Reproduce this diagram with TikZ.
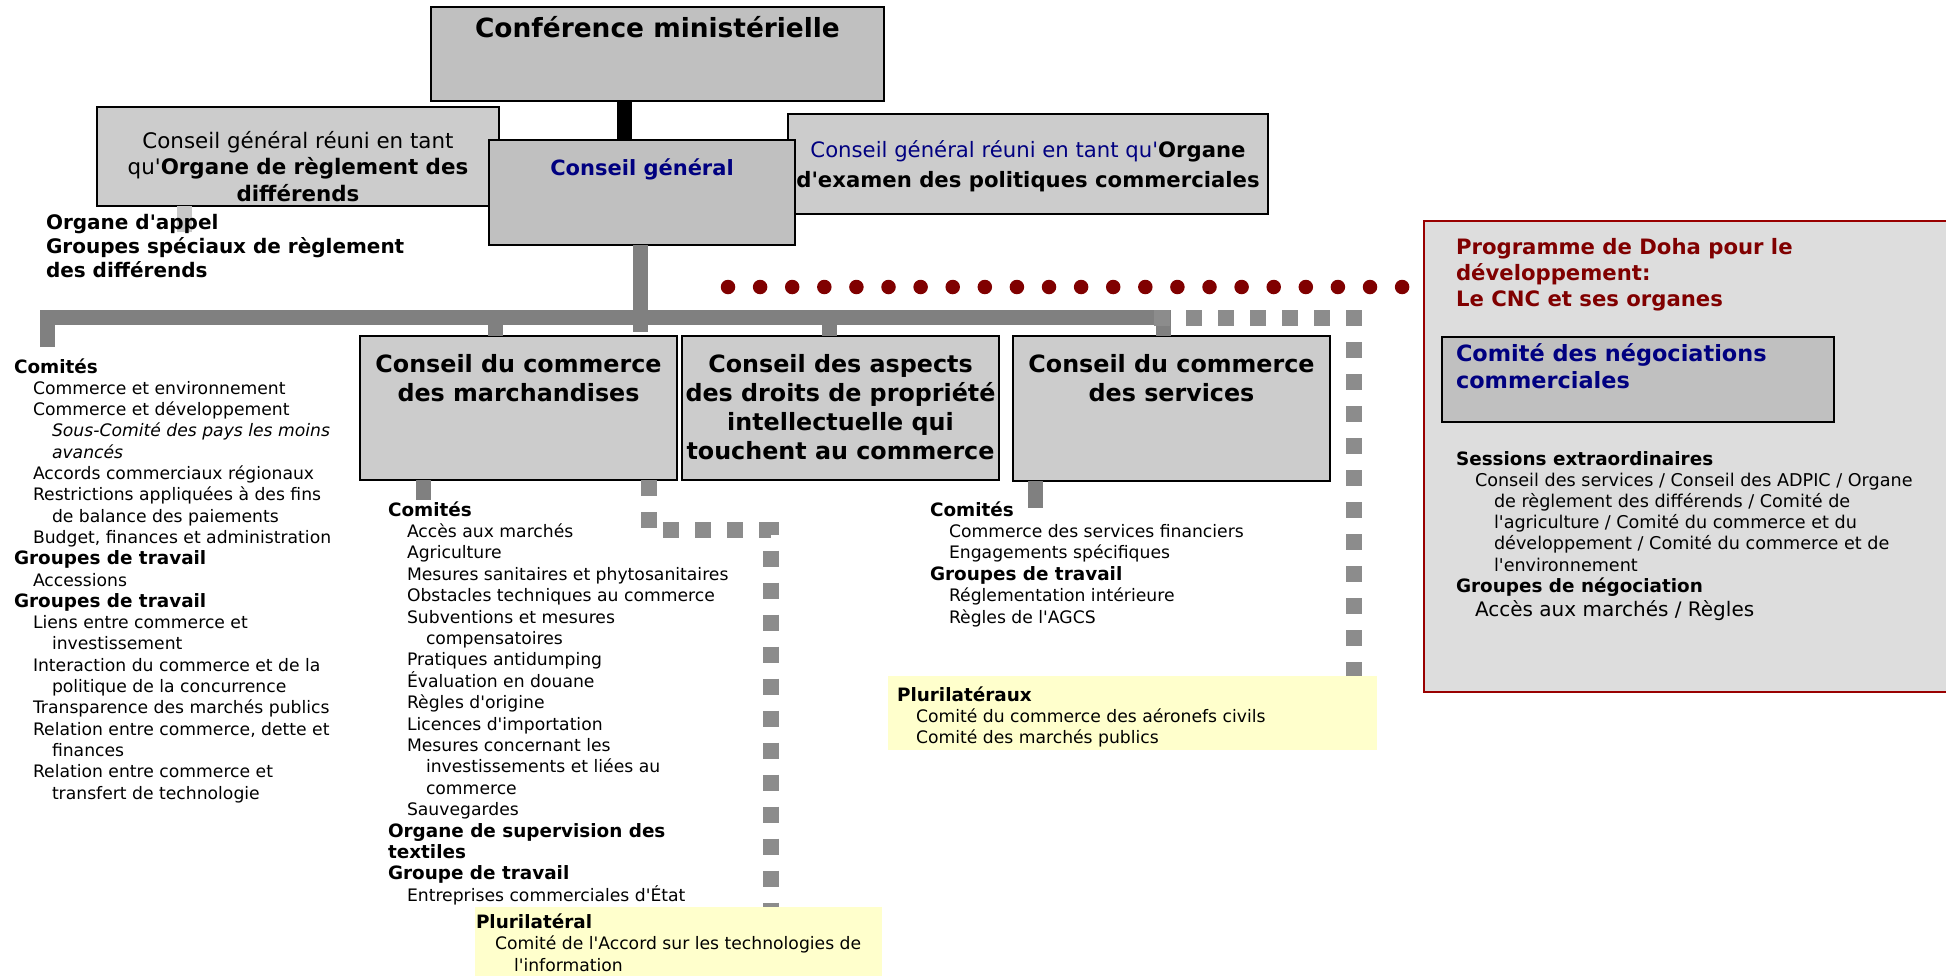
\documentclass[tikz,border=0pt]{standalone}
\usepackage{fontspec}
\setmainfont{DejaVu Sans}[Ligatures=TeXOff]
\definecolor{navy}{HTML}{000080}
\definecolor{dred}{HTML}{800000}
\definecolor{dborder}{HTML}{990000}
\definecolor{bxA}{HTML}{C0C0C0}
\definecolor{bxB}{HTML}{CCCCCC}
\definecolor{dohafill}{HTML}{DDDDDD}
\definecolor{ylw}{HTML}{FFFFCC}
\definecolor{busc}{HTML}{808080}
\definecolor{dshc}{HTML}{8C8C8C}
\definecolor{stubc}{HTML}{C8C8C8}
\newcommand\cbox[1]{\vtop{\lineskiplimit=-\maxdimen\halign{\hfil##\hfil\cr#1\crcr}}}
\newcommand\lbox[1]{\vtop{\lineskiplimit=-\maxdimen\halign{##\hfil\cr#1\crcr}}}
\newcommand\ia{\hskip9.5pt}
\newcommand\ib{\hskip19pt}
\newcommand\hd{\bfseries\fontsize{9.2}{10.7}\selectfont}
\tikzset{
  box/.style={draw=black, line width=1pt, inner sep=0pt, outer sep=0pt},
  ybox/.style={fill=ylw, inner sep=0pt, outer sep=0pt},
  bus/.style={draw=busc, line width=7.5pt},
  blk/.style={draw=black, line width=7.5pt},
  stub/.style={draw=stubc, line width=7.5pt},
  dsh/.style={draw=dshc, line width=8pt, dash pattern=on 8pt off 8pt},
  dots/.style={draw=dred, line width=7.25pt, line cap=round, dash pattern=on 0pt off 16.05pt},
  txt/.style={inner sep=0pt, outer sep=0pt},
}
\begin{document}
\begin{tikzpicture}[x=0.5pt,y=-0.5pt]
\useasboundingbox (0,0) rectangle (1946,975);
\fill[white] (0,0) rectangle (1946,975);

% Doha background box
\node[draw=dborder, line width=1pt, fill=dohafill, inner sep=0pt, minimum width=273pt, minimum height=235.5pt] (doha) at (1697,456.5) {};
\node[box, fill=bxA, minimum width=196pt, minimum height=42.5pt] (cnc) at (1638,379.5) {};

% top boxes
\node[box, fill=bxA, minimum width=226.5pt, minimum height=47pt] (conf) at (657.5,54) {};
\node[box, fill=bxB, minimum width=201pt, minimum height=49.5pt] (ord) at (298,156.5) {};
\node[box, fill=bxB, minimum width=240pt, minimum height=50pt] (oepc) at (1028,164) {};
\coordinate (bx) at (624.5,0);
\draw[blk] (bx |- conf.south) -- (bx |- ord.north);
\node[box, fill=bxA, minimum width=153pt, minimum height=52.5pt] (cg) at (642,192.5) {};
\draw[blk] (bx |- conf.south) -- (bx |- cg.north);

% council boxes
\node[box, fill=bxB, minimum width=158.5pt, minimum height=72pt] (goods) at (518.5,408) {};
\node[box, fill=bxB, minimum width=158.5pt, minimum height=72pt] (trips) at (840.5,408) {};
\node[box, fill=bxB, minimum width=158.5pt, minimum height=72.5pt] (serv) at (1171.5,408.5) {};

% connectors
\coordinate (os) at (184.5,232);
\draw[stub] (os |- ord.south) -- (os);
\coordinate (cgx) at (640,332);
\draw[bus] (cgx |- cg.south) -- (cgx);
\coordinate (ldrop) at (47,347);
\coordinate (busL) at (47,317.5);
\coordinate (busR) at (1163.5,317.5);
\draw[bus] (ldrop) -- (busL) -- (busR) -- (busR |- serv.north);
\coordinate (gd) at (495.5,317.5);
\draw[bus] (gd) -- (gd |- goods.north);
\coordinate (td) at (829.5,317.5);
\draw[bus] (td) -- (td |- trips.north);
\coordinate (gs) at (423.5,500);
\draw[bus] (gs |- goods.south) -- (gs);
\coordinate (ss) at (1035,508);
\draw[bus] (ss |- serv.south) -- (ss);

% dashed plurilateral links
\coordinate (dsA) at (1154,318);
\coordinate (dsB) at (1354,318);
\coordinate (dgA) at (649,0);
\coordinate (dgB) at (649,530);
\coordinate (dgC) at (770.5,530);
\node[ybox, minimum width=244.5pt, minimum height=37pt] (pls) at (1132.5,713) {};
\node[ybox, minimum width=203.5pt, minimum height=39pt] (plg) at (678.5,946) {};
\draw[dsh] (dsA) -- (dsB) -- (dsB |- pls.north);
\draw[dsh] (dgA |- goods.south) -- (dgB) -- (dgC) -- (dgC |- plg.north);
\node[ybox, minimum width=244.5pt, minimum height=37pt] at (pls) {};
\node[ybox, minimum width=203.5pt, minimum height=39pt] at (plg) {};

% red dotted link to Doha
\coordinate (dot1) at (728,287);
\coordinate (dot2) at (1403,287);
\draw[dots] (dot1) -- (dot2);

% texts
\node[txt, anchor=base, font=\bfseries\fontsize{13.2}{16}\selectfont] (conft) at (657.5,37) {Conférence ministérielle};
\node[txt, anchor=base, font=\fontsize{10.7}{13.25}\selectfont] (ordt) at (298,148) {\cbox{Conseil général réuni en tant\cr qu'\textbf{Organe de règlement des}\cr \textbf{différends}}};
\node[txt, anchor=base, font=\bfseries\fontsize{10.5}{13}\selectfont, text=navy] (cgt) at (642,175) {Conseil général};
\node[txt, anchor=base, font=\fontsize{10.6}{15}\selectfont] (oepct) at (1028,157) {\cbox{\textcolor{navy}{Conseil général réuni en tant qu'}\textbf{Organe}\cr \textbf{d'examen des politiques commerciales}}};
\node[txt, anchor=base west, font=\bfseries\fontsize{10}{12}\selectfont] (appel) at (46,229) {\lbox{Organe d'appel\cr Groupes spéciaux de règlement\cr des différends}};

\node[txt, anchor=base, font=\bfseries\fontsize{11.9}{14.65}\selectfont] (goodst) at (518.5,372) {\cbox{Conseil du commerce\cr des marchandises}};
\node[txt, anchor=base, font=\bfseries\fontsize{11.9}{14.65}\selectfont] (tripst) at (840.5,372) {\cbox{Conseil des aspects\cr des droits de propriété\cr intellectuelle qui\cr touchent au commerce}};
\node[txt, anchor=base, font=\bfseries\fontsize{11.9}{14.65}\selectfont] (servt) at (1171.5,372) {\cbox{Conseil du commerce\cr des services}};

\node[txt, anchor=base west, font=\fontsize{8.6}{10.65}\selectfont] (lst1) at (14,373) {\lbox{\hd Comités\cr
\ia Commerce et environnement\cr
\ia Commerce et développement\cr
\ib\itshape Sous-Comité des pays les moins\cr
\ib\itshape avancés\cr
\ia Accords commerciaux régionaux\cr
\ia Restrictions appliquées à des fins\cr
\ib de balance des paiements\cr
\ia Budget, finances et administration\cr
\hd Groupes de travail\cr
\ia Accessions\cr
\hd Groupes de travail\cr
\ia Liens entre commerce et\cr
\ib investissement\cr
\ia Interaction du commerce et de la\cr
\ib politique de la concurrence\cr
\ia Transparence des marchés publics\cr
\ia Relation entre commerce, dette et\cr
\ib finances\cr
\ia Relation entre commerce et\cr
\ib transfert de technologie}};

\node[txt, anchor=base west, font=\fontsize{8.6}{10.7}\selectfont] (lst2) at (388,516) {\lbox{\hd Comités\cr
\ia Accès aux marchés\cr
\ia Agriculture\cr
\ia Mesures sanitaires et phytosanitaires\cr
\ia Obstacles techniques au commerce\cr
\ia Subventions et mesures\cr
\ib compensatoires\cr
\ia Pratiques antidumping\cr
\ia Évaluation en douane\cr
\ia Règles d'origine\cr
\ia Licences d'importation\cr
\ia Mesures concernant les\cr
\ib investissements et liées au\cr
\ib commerce\cr
\ia Sauvegardes\cr
\hd Organe de supervision des\cr
\hd textiles\cr
\hd Groupe de travail\cr
\ia Entreprises commerciales d'État}};

\node[txt, anchor=base west, font=\fontsize{8.6}{10.7}\selectfont] (lst3) at (930,516) {\lbox{\hd Comités\cr
\ia Commerce des services financiers\cr
\ia Engagements spécifiques\cr
\hd Groupes de travail\cr
\ia Réglementation intérieure\cr
\ia Règles de l'AGCS}};

\node[txt, anchor=base west, font=\fontsize{8.6}{10.5}\selectfont] (plst) at (897,701) {\lbox{\hd Plurilatéraux\cr
\ia Comité du commerce des aéronefs civils\cr
\ia Comité des marchés publics}};

\node[txt, anchor=base west, font=\fontsize{8.6}{10.75}\selectfont] (plgt) at (476,928) {\lbox{\hd Plurilatéral\cr
\ia Comité de l'Accord sur les technologies de\cr
\ib l'information}};

\node[txt, anchor=base west, font=\bfseries\fontsize{10.6}{13}\selectfont, text=dred] (dohat) at (1456,254) {\lbox{Programme de Doha pour le\cr développement:\cr Le CNC et ses organes}};
\node[txt, anchor=base west, font=\bfseries\fontsize{11.2}{13.5}\selectfont, text=navy] (cnct) at (1456,361) {\lbox{Comité des négociations\cr commerciales}};
\node[txt, anchor=base west, font=\fontsize{8.8}{10.6}\selectfont] (dohal) at (1456,465) {\lbox{\hd Sessions extraordinaires\cr
\ia Conseil des services / Conseil des ADPIC / Organe\cr
\ib de règlement des différends / Comité de\cr
\ib l'agriculture / Comité du commerce et du\cr
\ib développement / Comité du commerce et de\cr
\ib l'environnement\cr
\hd Groupes de négociation\cr\noalign{\kern1.3pt}
\ia\fontsize{10}{12}\selectfont Accès aux marchés / Règles}};
\end{tikzpicture}
\end{document}
